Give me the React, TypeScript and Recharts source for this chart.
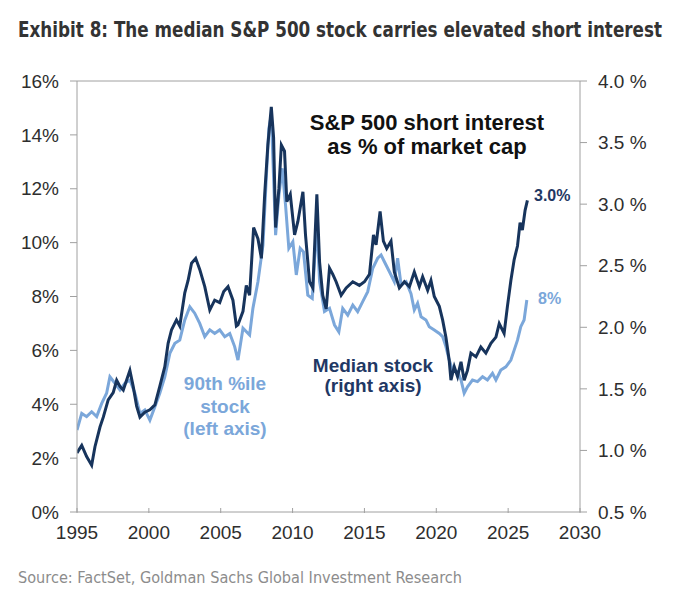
import React from "react";
import { LineChart, Line, XAxis, YAxis, ReferenceLine } from "recharts";

const xTicks = [1995, 2000, 2005, 2010, 2015, 2020, 2025, 2030];
const leftTicks = [0, 2, 4, 6, 8, 10, 12, 14, 16];
const rightTicks = [0.5, 1.0, 1.5, 2.0, 2.5, 3.0, 3.5, 4.0];

// Median stock short interest (% of market cap, right axis)
const medianYears = [
  1995.0, 1995.33, 1995.67, 1996.02, 1996.25, 1996.6, 1996.83, 1997.17, 1997.52, 1997.76,
  1997.99, 1998.22, 1998.68, 1998.91, 1999.15, 1999.38, 1999.72, 2000.07, 2000.42, 2000.76,
  2001.11, 2001.34, 2001.58, 2001.92, 2002.15, 2002.5, 2002.73, 2002.97, 2003.26, 2003.54,
  2003.89, 2004.24, 2004.58, 2004.93, 2005.21, 2005.51, 2005.85, 2006.09, 2006.2, 2006.55,
  2006.78, 2007.01, 2007.29, 2007.59, 2007.83, 2008.06, 2008.28, 2008.52, 2008.68, 2008.82,
  2009.05, 2009.22, 2009.44, 2009.6, 2009.84, 2010.14, 2010.37, 2010.72, 2010.9, 2011.18,
  2011.41, 2011.69, 2011.88, 2012.1, 2012.34, 2012.57, 2012.8, 2013.03, 2013.38, 2013.73,
  2014.19, 2014.65, 2015.0, 2015.35, 2015.63, 2015.81, 2016.09, 2016.32, 2016.55, 2016.85,
  2017.08, 2017.43, 2017.78, 2018.13, 2018.47, 2018.82, 2019.05, 2019.4, 2019.63, 2019.86,
  2020.21, 2020.44, 2020.67, 2020.9, 2021.02, 2021.25, 2021.48, 2021.72, 2021.94, 2022.17,
  2022.41, 2022.76, 2023.1, 2023.45, 2023.8, 2024.15, 2024.38, 2024.72, 2024.95, 2025.19,
  2025.42, 2025.65, 2025.83, 2025.99, 2026.18, 2026.34,
];
const medianValues = [
  0.98, 1.04, 0.95, 0.88, 1.03, 1.19, 1.27, 1.41, 1.47, 1.57,
  1.52, 1.49, 1.65, 1.52, 1.36, 1.27, 1.31, 1.33, 1.37, 1.52,
  1.68, 1.87, 1.98, 2.06, 2.01, 2.28, 2.38, 2.52, 2.56, 2.47,
  2.33, 2.14, 2.22, 2.2, 2.29, 2.33, 2.22, 2.01, 2.02, 2.13,
  2.34, 2.26, 2.81, 2.72, 2.56, 3.08, 3.48, 3.79, 3.54, 2.81,
  3.13, 3.48, 3.43, 3.02, 3.08, 2.75, 2.86, 3.1, 2.75, 2.37,
  2.32, 3.08, 2.53, 2.26, 2.15, 2.48, 2.43, 2.37, 2.26, 2.32,
  2.37, 2.34, 2.37, 2.43, 2.75, 2.67, 2.94, 2.7, 2.64, 2.7,
  2.45, 2.32, 2.37, 2.33, 2.45, 2.33, 2.41, 2.3, 2.38, 2.25,
  2.17, 2.06, 1.92, 1.73, 1.57, 1.68, 1.6, 1.72, 1.57, 1.65,
  1.79, 1.76, 1.84, 1.79, 1.87, 1.92, 2.03, 1.95, 2.17, 2.38,
  2.55, 2.66, 2.85, 2.79, 2.95, 3.03,
];

// 90th percentile stock short interest (% of market cap, left axis)
const pctYears = [
  1995.0, 1995.33, 1995.67, 1996.02, 1996.37, 1996.72, 1997.06, 1997.29, 1997.64, 1997.99,
  1998.33, 1998.68, 1999.03, 1999.38, 1999.72, 2000.07, 2000.42, 2000.76, 2001.11, 2001.46,
  2001.81, 2002.15, 2002.5, 2002.85, 2003.19, 2003.54, 2003.89, 2004.24, 2004.58, 2004.93,
  2005.28, 2005.63, 2005.97, 2006.2, 2006.55, 2007.01, 2007.24, 2007.59, 2007.94, 2008.17,
  2008.35, 2008.52, 2008.68, 2008.82, 2009.05, 2009.28, 2009.51, 2009.74, 2010.02, 2010.26,
  2010.53, 2010.76, 2011.06, 2011.37, 2011.69, 2011.88, 2012.22, 2012.57, 2012.92, 2013.22,
  2013.49, 2013.84, 2014.19, 2014.53, 2014.88, 2015.23, 2015.58, 2015.92, 2016.16, 2016.39,
  2016.74, 2017.08, 2017.31, 2017.55, 2017.9, 2018.24, 2018.47, 2018.7, 2018.94, 2019.28,
  2019.51, 2019.86, 2020.21, 2020.44, 2020.67, 2020.9, 2021.13, 2021.48, 2021.72, 2021.94,
  2022.17, 2022.52, 2022.87, 2023.22, 2023.56, 2023.91, 2024.15, 2024.49, 2024.84, 2025.19,
  2025.42, 2025.65, 2025.88, 2026.11, 2026.3,
];
const pctValues = [
  3.04, 3.66, 3.54, 3.72, 3.54, 4.03, 4.41, 5.02, 4.78, 4.53,
  4.78, 4.9, 4.41, 3.66, 3.79, 3.41, 3.91, 4.41, 5.02, 5.89,
  6.26, 6.38, 7.13, 7.62, 7.38, 7.0, 6.51, 6.76, 6.63, 6.76,
  6.51, 6.63, 6.14, 5.64, 6.82, 6.57, 7.56, 8.55, 9.91, 12.39,
  14.24, 14.74, 12.39, 10.28, 11.77, 12.76, 11.4, 9.79, 10.03, 8.8,
  9.79, 9.66, 8.05, 7.93, 10.78, 8.55, 7.44, 7.56, 6.94, 6.69,
  7.56, 7.31, 7.68, 7.44, 7.81, 8.18, 9.05, 9.42, 9.54, 9.29,
  8.92, 8.55, 9.42, 8.43, 8.55, 8.1, 7.5, 7.75, 7.25, 7.13,
  6.88, 6.76, 6.63, 6.51, 6.14, 5.64, 5.27, 5.21, 4.9, 4.41,
  4.65, 4.9, 4.84, 5.02, 4.9, 5.15, 4.9, 5.27, 5.39, 5.64,
  6.01, 6.38, 6.88, 7.13, 7.87,
];

const medianData = medianYears.map((x, i) => ({ x, median: medianValues[i] }));
const pctData = pctYears.map((x, i) => ({ x, pct: pctValues[i] }));

const DARK = "#17345c";
const LIGHT = "#7ba7da";
const AXIS = "#a0a0a0";
const TEXT = "#2e2e2e";
const FONT = "'Liberation Sans', Arial, sans-serif";
const NARROW = "'Liberation Sans Narrow', 'DejaVu Sans Condensed', 'Liberation Sans', sans-serif";

const XTick = (props: any) => {
  const { x, y, payload } = props;
  return (
    <g>
      <line x1={x} x2={x} y1={y - 4} y2={y + 1} stroke={AXIS} strokeWidth={1} />
      <text x={x} y={y + 27} textAnchor="middle" fontSize={19} fill={TEXT} fontFamily={FONT}>
        {payload.value}
      </text>
    </g>
  );
};

export default function App() {
  return (
    <div style={{ position: "absolute", left: 0, top: 0, width: 680, height: 604, background: "#fff" }}>
      <LineChart
        width={680}
        height={604}
        margin={{ top: 81, right: 0, bottom: 62, left: 0 }}
      >
        <XAxis
          type="number"
          dataKey="x"
          domain={[1995, 2030]}
          ticks={xTicks}
          allowDataOverflow
          axisLine={{ stroke: AXIS }}
          tickLine={false}
          tickSize={0}
          tickMargin={0}
          height={30}
          tick={<XTick />}
          interval={0}
        />
        <YAxis
          yAxisId="left"
          orientation="left"
          domain={[0, 16]}
          ticks={leftTicks}
          width={77}
          axisLine={{ stroke: AXIS }}
          tickLine={{ stroke: AXIS }}
          tickSize={7}
          tickMargin={11}
          interval={0}
          tick={{ fontSize: 19, fill: TEXT, fontFamily: FONT }}
          tickFormatter={(v: number) => `${v}%`}
        />
        <YAxis
          yAxisId="right"
          orientation="right"
          domain={[0.5, 4.0]}
          ticks={rightTicks}
          width={100}
          axisLine={{ stroke: AXIS }}
          tickLine={{ stroke: AXIS }}
          tickSize={7}
          tickMargin={11}
          interval={0}
          tick={{ fontSize: 19, fill: TEXT, fontFamily: FONT }}
          tickFormatter={(v: number) => `${v.toFixed(1)} %`}
        />
        <ReferenceLine yAxisId="left" y={16} stroke={AXIS} strokeWidth={1} />
        <Line
          yAxisId="left"
          data={pctData}
          dataKey="pct"
          type="linear"
          stroke={LIGHT}
          strokeWidth={3}
          dot={false}
          activeDot={false}
          isAnimationActive={false}
        />
        <Line
          yAxisId="right"
          data={medianData}
          dataKey="median"
          type="linear"
          stroke={DARK}
          strokeWidth={3}
          dot={false}
          activeDot={false}
          isAnimationActive={false}
        />
      </LineChart>
      <svg
        width={680}
        height={604}
        style={{ position: "absolute", left: 0, top: 0, pointerEvents: "none" }}
      >
        <text
          transform="translate(18,37) scale(1,1.25)"
          x={0}
          y={0}
          fontSize={17.5}
          fontWeight="bold"
          fill="#333"
          fontFamily={NARROW}
          textLength={644}
          lengthAdjust="spacingAndGlyphs"
        >
          Exhibit 8: The median S&amp;P 500 stock carries elevated short interest
        </text>
        <text x={427} y={130} textAnchor="middle" fontSize={22} fontWeight="bold" fill="#111" fontFamily={FONT}>
          S&amp;P 500 short interest
        </text>
        <text x={427} y={154} textAnchor="middle" fontSize={22} fontWeight="bold" fill="#111" fontFamily={FONT}>
          as % of market cap
        </text>
        <text x={373} y={372} textAnchor="middle" fontSize={19} fontWeight="bold" fill="#1f3864" fontFamily={FONT}>
          Median stock
        </text>
        <text x={373} y={392} textAnchor="middle" fontSize={19} fontWeight="bold" fill="#1f3864" fontFamily={FONT}>
          (right axis)
        </text>
        <text x={225} y={390} textAnchor="middle" fontSize={19} fontWeight="bold" fill={LIGHT} fontFamily={FONT}>
          90th %ile
        </text>
        <text x={225} y={413} textAnchor="middle" fontSize={19} fontWeight="bold" fill={LIGHT} fontFamily={FONT}>
          stock
        </text>
        <text x={225} y={435} textAnchor="middle" fontSize={19} fontWeight="bold" fill={LIGHT} fontFamily={FONT}>
          (left axis)
        </text>
        <text x={534} y={201} fontSize={16} fontWeight="bold" fill="#1f3864" fontFamily={FONT}>
          3.0%
        </text>
        <text x={538} y={304} fontSize={16} fontWeight="bold" fill={LIGHT} fontFamily={FONT}>
          8%
        </text>
        <text
          x={18}
          y={583}
          fontSize={15}
          fill="#8c8c8c"
          fontFamily={NARROW}
          textLength={444}
          lengthAdjust="spacingAndGlyphs"
        >
          Source: FactSet, Goldman Sachs Global Investment Research
        </text>
      </svg>
    </div>
  );
}
